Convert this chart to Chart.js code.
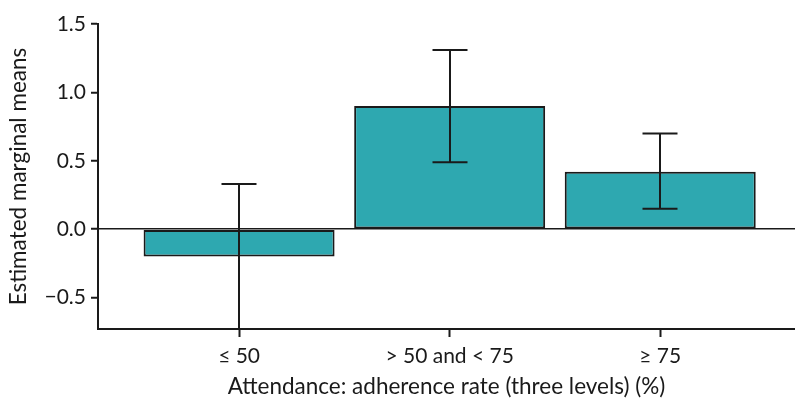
<!DOCTYPE html>
<html>
<head>
<meta charset="utf-8">
<script src="https://cdn.jsdelivr.net/npm/chart.js@4/dist/chart.umd.min.js"></script>
<style>
  html, body { margin: 0; padding: 0; background: #fff; overflow: hidden; }
  #wrap { width: 795px; height: 406px; }
</style>
</head>
<body>
<div id="wrap"><canvas id="c" width="795" height="406"></canvas></div>
<script>
// Estimated marginal means by attendance level, with 95% CI bounds
const categories = ['\u2264 50', '> 50 and < 75', '\u2265 75'];
const means = [-0.2, 0.9, 0.42];
const lowerCI = [-0.75, 0.49, 0.15];
const upperCI = [0.33, 1.31, 0.70];
const yTicks = [-0.5, 0.0, 0.5, 1.0, 1.5];

const FONT = 'Lato';
const INK = '#1a1a1a';

// Draws vertical error bars with caps over each bar
const errorBars = {
  id: 'errorBars',
  afterDatasetsDraw(chart) {
    const { ctx, chartArea, scales } = chart;
    const x = scales.x, y = scales.y;
    ctx.save();
    ctx.beginPath();
    ctx.rect(chartArea.left, chartArea.top - 10, chartArea.right - chartArea.left, chartArea.bottom - chartArea.top + 10);
    ctx.clip();
    ctx.strokeStyle = INK;
    ctx.lineCap = 'butt';
    categories.forEach((_, i) => {
      const px = Math.round(x.getPixelForValue(i));
      const yl = y.getPixelForValue(lowerCI[i]);
      const yu = y.getPixelForValue(upperCI[i]);
      ctx.lineWidth = 2;
      ctx.beginPath();
      ctx.moveTo(px, yl);
      ctx.lineTo(px, yu);
      ctx.moveTo(px - 17.5, yu);
      ctx.lineTo(px + 17.5, yu);
      ctx.moveTo(px - 17.5, yl);
      ctx.lineTo(px + 17.5, yl);
      ctx.stroke();
    });
    ctx.restore();
  }
};

new Chart(document.getElementById('c'), {
  type: 'bar',
  data: {
    datasets: [{
      data: means.map((v, i) => ({ x: i, y: v })),
      backgroundColor: '#2ea8b0',
      borderColor: INK,
      borderWidth: 2,
      borderSkipped: false,
      barPercentage: 1,
      categoryPercentage: 0.907
    }]
  },
  options: {
    responsive: false,
    devicePixelRatio: 1,
    animation: false,
    layout: { padding: { top: 24, right: 0, left: 0, bottom: 0 } },
    plugins: { legend: { display: false }, tooltip: { enabled: false } },
    scales: {
      x: {
        type: 'linear',
        offset: false,
        min: -0.67,
        max: 2.64,
        afterBuildTicks: s => { s.ticks = categories.map((_, i) => ({ value: i })); },
        afterFit: s => { s.height = 77; },
        ticks: {
          callback: v => categories[v],
          color: INK,
          font: { family: FONT, size: 21 },
          padding: 7,
          maxRotation: 0,
          autoSkip: false
        },
        grid: { display: true, offset: false, drawOnChartArea: false, drawTicks: true, tickLength: 8, tickColor: INK, tickWidth: 2 },
        border: { display: true, color: INK, width: 2 },
        title: {
          display: true,
          text: 'Attendance: adherence rate (three levels) (%)',
          color: INK,
          font: { family: FONT, size: 22.5 },
          padding: { top: 2, bottom: 6 }
        }
      },
      y: {
        min: -0.73,
        max: 1.5,
        afterBuildTicks: s => { s.ticks = yTicks.map(v => ({ value: v })); },
        afterFit: s => { s.width = 98; },
        ticks: {
          callback: v => (v < 0 ? '\u2212' : '') + Math.abs(v).toFixed(1),
          color: INK,
          font: { family: FONT, size: 21 },
          padding: 5
        },
        grid: {
          drawTicks: true,
          tickLength: 7,
          tickColor: INK,
          tickWidth: 2,
          lineWidth: 1.5,
          color: c => (c.tick && c.tick.value === 0 ? INK : 'rgba(0,0,0,0)')
        },
        border: { display: true, color: INK, width: 2 },
        title: {
          display: true,
          text: 'Estimated marginal means',
          color: INK,
          font: { family: FONT, size: 22.5 },
          padding: { top: 5, bottom: 2 }
        }
      }
    }
  },
  plugins: [errorBars]
});
</script>
</body>
</html>
